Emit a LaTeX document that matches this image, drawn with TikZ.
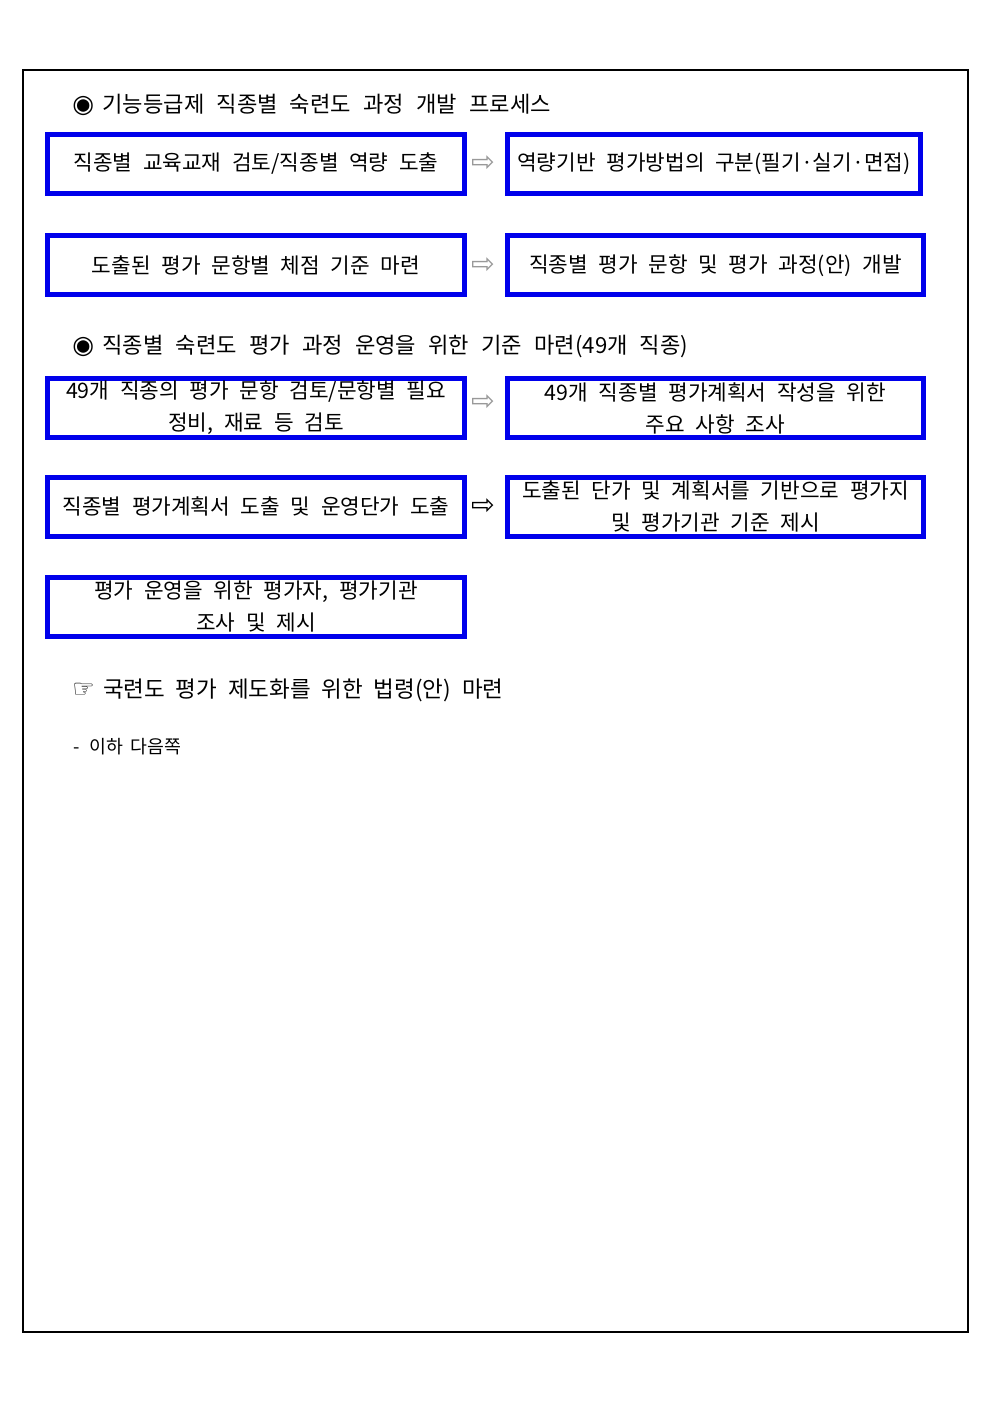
\documentclass[tikz,border=0pt]{standalone}
\usepackage{fontspec}
\setmainfont{Noto Sans CJK KR}
\newfontfamily\symfont{DejaVu Sans}
\usetikzlibrary{calc}
\begin{document}
\begin{tikzpicture}[x=0.6pt, y=-0.6pt,
  stepbox/.style={rectangle, draw={rgb,255:red,0;green,0;blue,235}, line width=3pt, minimum height=35.4pt, minimum width=250.2pt, inner sep=0pt, align=center, font={\fontsize{12.8}{19.2}\selectfont\spaceskip=0.5em\relax}},
  heading/.style={anchor=west, inner sep=0pt, font={\fontsize{13.3}{15}\selectfont\spaceskip=0.55em\relax}},
  flow/.style={inner sep=0pt, font={\symfont\fontsize{17}{17}\selectfont}}]
  \useasboundingbox (0,0) rectangle (992,1403);
  % Frame
  \draw[line width=1.2pt] (23,70) rectangle (968,1332);
  % Header
  \node (title1) [heading] at (72,105) {{\symfont\fontsize{15}{15}\selectfont ◉}\hspace{5pt}기능등급제 직종별 숙련도 과정 개발 프로세스};
  % Nodes
  \node (A1) [stepbox] at (256,164) {직종별 교육교재 검토/직종별 역량 도출};
  \node (A2) [stepbox, minimum width=247.8pt] at (714,164) {역량기반 평가방법의 구분(필기·실기·면접)};
  \node (B1) [stepbox] at (256,265.5) {도출된 평가 문항별 체점 기준 마련};
  \node (B2) [stepbox, minimum width=249.6pt] at (715.5,265.5) {직종별 평가 문항 및 평가 과정(안) 개발};
  % Header
  \node (title2) [heading] at (72,347) {{\symfont\fontsize{15}{15}\selectfont ◉}\hspace{5pt}직종별 숙련도 평가 과정 운영을 위한 기준 마련(49개 직종)};
  % Nodes
  \node (C1) [stepbox] at (256,408) {49개 직종의 평가 문항 검토/문항별 필요\\정비, 재료 등 검토};
  \node (C2) [stepbox, minimum width=249.6pt] at (715.5,408) {49개 직종별 평가계획서 작성을 위한\\주요 사항 조사};
  \node (D1) [stepbox] at (256,506.5) {직종별 평가계획서 도출 및 운영단가 도출};
  \node (D2) [stepbox, minimum width=249.6pt] at (715.5,506.5) {도출된 단가 및 계획서를 기반으로 평가지\\및 평가기관 기준 제시};
  \node (E1) [stepbox] at (256,607) {평가 운영을 위한 평가자, 평가기관\\조사 및 제시};
  % Arrows
  \node (arrA) [flow, black!40] at ($(A1.east)!0.42!(A2.west)$) {⇨};
  \node (arrB) [flow, black!40] at ($(B1.east)!0.42!(B2.west)$) {⇨};
  \node (arrC) [flow, black!40, yshift=3.5pt] at ($(C1.east)!0.42!(C2.west)$) {⇨};
  \node (arrD) [flow, black] at ($(D1.east)!0.42!(D2.west)$) {⇨};
  % Footer
  \node (law) [heading, font={\fontsize{13.5}{16}\selectfont\spaceskip=0.48em\relax}] at (72,690) {{\symfont\fontsize{15}{15}\selectfont ☞}\hspace{5pt}국련도 평가 제도화를 위한 법령(안) 마련};
  \node (next) [heading, font={\fontsize{11}{13}\selectfont\spaceskip=0.4em\relax}] at (73,747) {-\hspace{6pt}이하 다음쪽};
\end{tikzpicture}
\end{document}
